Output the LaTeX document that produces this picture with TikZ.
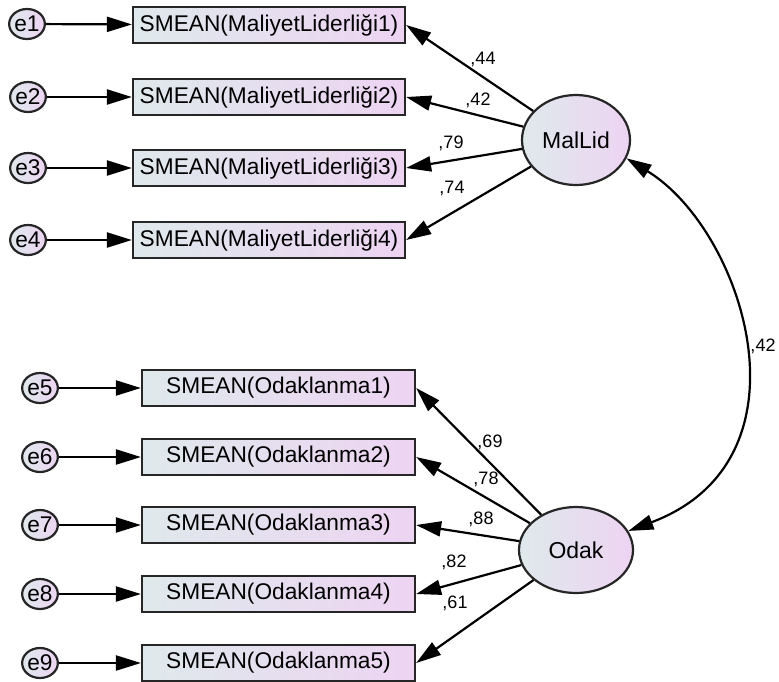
\documentclass[tikz,border=0pt]{standalone}
\usepackage{fontspec}
\setmainfont{Liberation Sans}
\usetikzlibrary{arrows.meta,shapes.geometric}
\definecolor{lc}{HTML}{DFE9EC}
\definecolor{rc}{HTML}{EDD4F2}
\tikzset{
  obsbox/.style={draw=black!85, line width=2.2pt, rectangle, minimum width=272pt, minimum height=36pt, inner sep=0pt,
    left color=lc, right color=rc, font=\fontsize{22.7}{26}\selectfont},
  errnode/.style={draw=black!85, line width=2.2pt, ellipse, minimum width=35pt, minimum height=30pt, inner sep=0pt,
    left color=lc, right color=rc, font=\fontsize{22.7}{26}\selectfont},
  latnode/.style={draw=black!85, line width=2.2pt, ellipse, inner sep=0pt,
    left color=lc, right color=rc, font=\fontsize{23}{26}\selectfont},
  arr/.style={line width=2.2pt, -{Triangle[length=25pt,width=15pt]}},
  coef/.style={font=\fontsize{18}{20}\selectfont, inner sep=0pt}
}
\begin{document}
\begin{tikzpicture}[x=1pt,y=-1pt]
\useasboundingbox (0,0) rectangle (779,681);
% top block
\node[obsbox] (b1) at (269,25) {SMEAN(MaliyetLiderliği1)};
\node[obsbox] (b2) at (269,97) {SMEAN(MaliyetLiderliği2)};
\node[obsbox] (b3) at (269,168) {SMEAN(MaliyetLiderliği3)};
\node[obsbox] (b4) at (269,240) {SMEAN(MaliyetLiderliği4)};
\node[errnode] (e1) at (27,24) {e1};
\node[errnode] (e2) at (28,97) {e2};
\node[errnode] (e3) at (28,168) {e3};
\node[errnode] (e4) at (28,240) {e4};
\node[latnode, minimum width=108pt, minimum height=90pt] (mal) at (576,140) {MalLid};
% bottom block
\node[obsbox, minimum width=273pt] (b5) at (278.5,388) {SMEAN(Odaklanma1)};
\node[obsbox, minimum width=273pt] (b6) at (278.5,457) {SMEAN(Odaklanma2)};
\node[obsbox, minimum width=273pt] (b7) at (278.5,525) {SMEAN(Odaklanma3)};
\node[obsbox, minimum width=273pt] (b8) at (278.5,594) {SMEAN(Odaklanma4)};
\node[obsbox, minimum width=273pt] (b9) at (278.5,663) {SMEAN(Odaklanma5)};
\node[errnode] (e5) at (40,388) {e5};
\node[errnode] (e6) at (40,457) {e6};
\node[errnode] (e7) at (40,525) {e7};
\node[errnode] (e8) at (40,594) {e8};
\node[errnode] (e9) at (40,663) {e9};
\node[latnode, minimum width=114pt, minimum height=86pt] (odak) at (576,550) {Odak};
% error arrows
\foreach \i in {1,...,9} { \draw[arr] (e\i) -- (b\i); }
% loadings
\draw[arr] (mal) -- (b1.east);
\draw[arr] (mal) -- (b2.east);
\draw[arr] (mal) -- (b3.east);
\draw[arr] (mal) -- (b4.east);
\draw[arr] (odak) -- (b5.east);
\draw[arr] (odak) -- (b6.east);
\draw[arr] (odak) -- (b7.east);
\draw[arr] (odak) -- (b8.east);
\draw[arr] (odak) -- (b9.east);
% covariance
\draw[line width=2.2pt, {Triangle[length=25pt,width=15pt]}-{Triangle[length=25pt,width=15pt]}]
  (mal.-20) .. controls +(116.7,71.3) and +(190,-71.3) .. (odak.20);
% labels
\node[coef] (l1) at (483,59) {,44};
\node[coef] (l2) at (478,100) {,42};
\node[coef] (l3) at (451,143) {,79};
\node[coef] (l4) at (452,188) {,74};
\node[coef] (l5) at (490,442) {,69};
\node[coef] (l6) at (486,479) {,78};
\node[coef] (l7) at (481,519) {,88};
\node[coef] (l8) at (454,562) {,82};
\node[coef] (l9) at (455,603) {,61};
\node[coef] (lc) at (763,346) {,42};
\end{tikzpicture}
\end{document}
